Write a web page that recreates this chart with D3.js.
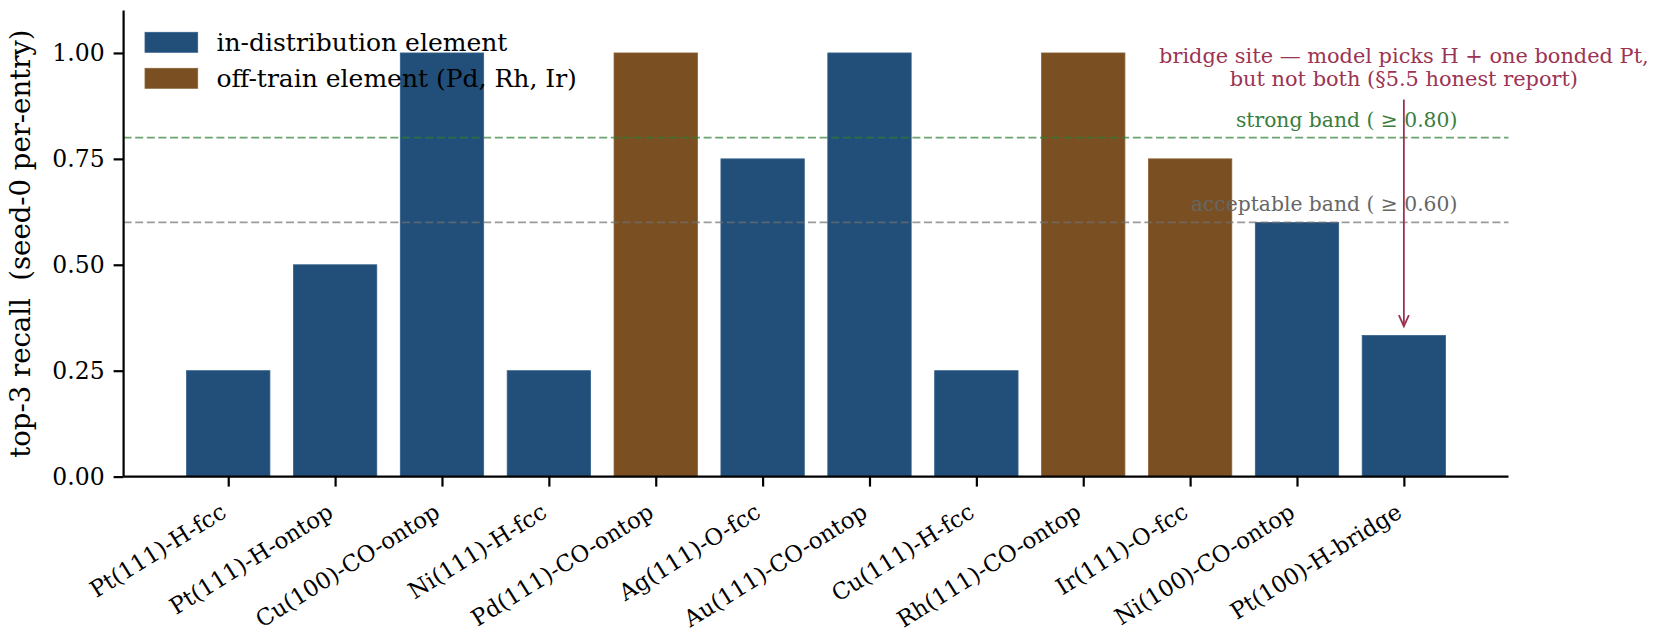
<!DOCTYPE html>
<html>
<head>
<meta charset="utf-8">
<script src="https://cdn.jsdelivr.net/npm/d3@7"></script>
<style>
  html, body { margin: 0; padding: 0; background: #fff; }
  svg { display: block; }
  text { font-family: "DejaVu Serif", serif; white-space: pre; }
</style>
</head>
<body>
<svg id="chart" width="1657" height="643"></svg>
<script>
// ---- data ----
const categories = ["Pt(111)-H-fcc", "Pt(111)-H-ontop", "Cu(100)-CO-ontop", "Ni(111)-H-fcc",
  "Pd(111)-CO-ontop", "Ag(111)-O-fcc", "Au(111)-CO-ontop", "Cu(111)-H-fcc",
  "Rh(111)-CO-ontop", "Ir(111)-O-fcc", "Ni(100)-CO-ontop", "Pt(100)-H-bridge"];
const recall = [0.25, 0.5, 1.0, 0.25, 1.0, 0.75, 1.0, 0.25, 1.0, 0.75, 0.6, 0.333];
const offTrain = [false, false, false, false, true, false, false, false, true, true, false, false];
const yTicks = [0, 0.25, 0.5, 0.75, 1.0];
const legendLabels = ["in-distribution element", "off-train element (Pd, Rh, Ir)"];
const bands = [
  {value: 0.80, label: "strong band ( \u2265 0.80)", kind: "strong"},
  {value: 0.60, label: "acceptable band ( \u2265 0.60)", kind: "acceptable"}
];
const noteLines = ["bridge site \u2014 model picks H + one bonded Pt,", "but not both (\u00a75.5 honest report)"];
const noteIndex = 11;
const noteTextValue = 0.89;
const noteArrowValue = 0.355;

// ---- styles ----
const colIn = "#214f79", colOff = "#7a5022";
const colNote = "#9c3352";
const bandStyle = {
  strong: {line: "#2e7d32", text: "#3a7d3c"},
  acceptable: {line: "#707070", text: "#666666"}
};

const svg = d3.select("#chart");
const L = 123.6, R = 1508.5, T = 10.6, B = 476.6;
const barW = 0.78;
const x = d3.scaleLinear().domain([-0.979, 11.979]).range([L, R]);
const y = d3.scaleLinear().domain([0, 1.1]).range([B, T]);
const unit = x(1) - x(0);

// bars
svg.append("g").selectAll("rect").data(recall).join("rect")
  .attr("x", (d, i) => x(i - barW / 2))
  .attr("width", barW * unit)
  .attr("y", d => y(d))
  .attr("height", d => y(0) - y(d))
  .attr("fill", (d, i) => offTrain[i] ? colOff : colIn)
  .attr("stroke", (d, i) => offTrain[i] ? "#8a6235" : "#33608a")
  .attr("stroke-width", 0.8);

// bands (drawn over bars)
bands.forEach(b => {
  const st = bandStyle[b.kind];
  svg.append("line")
    .attr("x1", L).attr("x2", R).attr("y1", y(b.value)).attr("y2", y(b.value))
    .attr("stroke", st.line).attr("stroke-opacity", 0.7)
    .attr("stroke-width", 1.8).attr("stroke-dasharray", "8,3.6");
});

// band labels
bands.forEach(b => {
  const st = bandStyle[b.kind];
  svg.append("text")
    .attr("x", x(11.5)).attr("y", y(b.value) - 11)
    .attr("text-anchor", "end")
    .attr("fill", st.text).attr("font-size", 20.3)
    .text(b.label);
});

// axes
const yAxis = d3.axisLeft(y).tickValues(yTicks).tickFormat(d3.format(".2f")).tickSize(10).tickPadding(9);
const gy = svg.append("g").attr("transform", `translate(${L},0)`).call(yAxis);
gy.select(".domain").attr("d", `M0,${T}V${B}`).attr("stroke-width", 2.2);
gy.selectAll(".tick line").attr("stroke-width", 2.2);
gy.selectAll(".tick text").attr("font-size", 23.5).attr("font-family", "DejaVu Serif").attr("fill", "#000");

const xAxis = d3.axisBottom(x).tickValues(d3.range(categories.length)).tickFormat(i => categories[i]).tickSize(10);
const gx = svg.append("g").attr("transform", `translate(0,${B})`).call(xAxis);
gx.select(".domain").attr("d", `M${L},0H${R}`).attr("stroke-width", 2.2);
gx.selectAll(".tick line").attr("stroke-width", 2.2);
gx.selectAll(".tick text")
  .attr("font-size", 22.8).attr("font-family", "DejaVu Serif").attr("fill", "#000")
  .attr("text-anchor", "end").attr("dy", null).attr("y", null)
  .attr("transform", "translate(-1,39.5) rotate(-32)");

// y label
svg.append("text")
  .attr("transform", `translate(30,${(T + B) / 2}) rotate(-90)`)
  .attr("text-anchor", "middle").attr("font-size", 27.5)
  .text("top-3 recall  (seed-0 per-entry)");

// legend
const leg = svg.append("g");
legendLabels.forEach((lab, k) => {
  const cy = 42.3 + k * 36;
  leg.append("rect").attr("x", 145).attr("y", cy - 10).attr("width", 52.7).attr("height", 20)
    .attr("fill", k === 0 ? colIn : colOff)
    .attr("stroke", k === 0 ? "#33608a" : "#8a6235").attr("stroke-width", 0.8);
  leg.append("text").attr("x", 216.5).attr("y", cy + 8.5).attr("font-size", 25).text(lab);
});

// annotation
const ax = x(noteIndex);
noteLines.forEach((t, k) => {
  svg.append("text").attr("x", ax).attr("y", 63.3 + k * 22.6)
    .attr("text-anchor", "middle").attr("fill", colNote).attr("font-size", 20.9).text(t);
});
const ty = y(noteArrowValue);
svg.append("line").attr("x1", ax).attr("x2", ax).attr("y1", y(noteTextValue)).attr("y2", ty)
  .attr("stroke", colNote).attr("stroke-width", 1.8);
svg.append("path")
  .attr("d", `M${ax - 5},${ty - 11}L${ax},${ty}L${ax + 5},${ty - 11}`)
  .attr("fill", "none").attr("stroke", colNote).attr("stroke-width", 1.8);
</script>
</body>
</html>
